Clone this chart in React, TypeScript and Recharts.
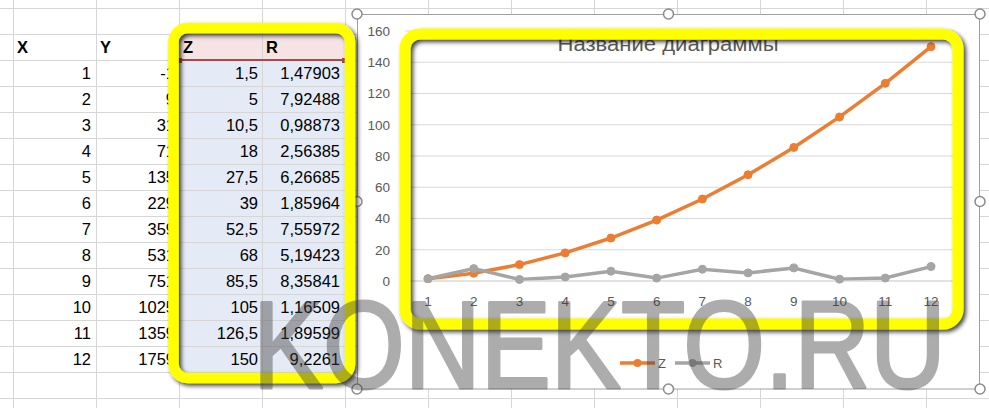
import React from 'react';
import { LineChart, Line, XAxis, YAxis, CartesianGrid } from 'recharts';

// sheet + chart values
const xValues = [1, 2, 3, 4, 5, 6, 7, 8, 9, 10, 11, 12];
const yValues = [-1, 9, 31, 71, 135, 229, 359, 531, 751, 1025, 1359, 1759];
const zValues = [1.5, 5, 10.5, 18, 27.5, 39, 52.5, 68, 85.5, 105, 126.5, 150];
const rValues = [1.47903, 7.92488, 0.98873, 2.56385, 6.26685, 1.85964, 7.55972, 5.19423, 8.35841, 1.16509, 1.89599, 9.2261];
const yTicks = [0, 20, 40, 60, 80, 100, 120, 140, 160];
const headers = ['X', 'Y', 'Z', 'R'];
const chartTitle = 'Название диаграммы';
const watermark = 'KONEKTO.RU';

const series = [
  { key: 'Z', color: '#ed7d31' },
  { key: 'R', color: '#a5a5a5' },
];

const data = xValues.map((x, i) => ({ x: String(x), Z: zValues[i], R: rValues[i] }));

const FONT = '"Liberation Sans", Arial, sans-serif';
const fmt = (v: number) => String(v).replace('.', ',');

// sheet grid
const colLines = Array.from({ length: 13 }, (_, i) => 13 + i * 83);
const rowLines = Array.from({ length: 16 }, (_, i) => 8 + i * 26);
const colRight = [91, 175, 258, 340];
const colLeft = [17, 100, 183, 266];

const Sheet = () => (
  <>
    <div style={{ position: 'absolute', left: 179, top: 34, width: 166, height: 26, background: '#f6e3e3' }} />
    <div style={{ position: 'absolute', left: 179, top: 60, width: 166, height: 312, background: '#e5ebf6' }} />
    <svg width={989} height={408} style={{ position: 'absolute', left: 0, top: 0 }}>
      {colLines.map((x) => (
        <line key={'c' + x} x1={x + 0.5} x2={x + 0.5} y1={0} y2={408} stroke="#d6d6d6" />
      ))}
      {rowLines.map((y) => (
        <line key={'r' + y} x1={0} x2={989} y1={y + 0.5} y2={y + 0.5} stroke="#d6d6d6" />
      ))}
      <line x1={179} x2={345} y1={60} y2={60} stroke="#a84848" strokeWidth={2} />
      <rect x={177} y={58} width={5} height={5} fill="#a84848" />
      <rect x={342} y={58} width={5} height={5} fill="#a84848" />
    </svg>
    {headers.map((h, i) => (
      <div key={h} style={{ position: 'absolute', left: colLeft[i], top: 34, height: 26, lineHeight: '27px', fontFamily: FONT, fontSize: 16.5, fontWeight: 'bold', color: '#000' }}>
        {h}
      </div>
    ))}
    {xValues.map((x, i) => {
      const vals = [fmt(x), fmt(yValues[i]), fmt(zValues[i]), fmt(rValues[i])];
      return vals.map((v, j) => (
        <div
          key={i + '-' + j}
          style={{ position: 'absolute', right: 989 - colRight[j], top: 60 + i * 26, height: 26, lineHeight: '27px', fontFamily: FONT, fontSize: 16.5, color: '#000', whiteSpace: 'nowrap' }}
        >
          {v}
        </div>
      ));
    })}
  </>
);

const handles = [
  [357, 14], [668.5, 14], [980, 14], [980, 201.5],
  [980, 389], [668.5, 389], [357, 389], [357, 201.5],
];

const Overlay = () => (
  <svg width={989} height={408} style={{ position: 'absolute', left: 0, top: 0, fontFamily: FONT }}>
    <defs>
      <filter id="shadow" x="-10%" y="-10%" width="120%" height="120%">
        <feDropShadow dx={2.5} dy={2.5} stdDeviation={2} floodColor="#000" floodOpacity={0.75} />
      </filter>
    </defs>
    <rect x={357.5} y={14.5} width={622} height={374.5} fill="none" stroke="#a0a0a0" />
    {handles.map(([cx, cy], i) => (
      <circle key={i} cx={cx} cy={cy} r={5} fill="#fff" stroke="#8c8c8c" strokeWidth={1.5} />
    ))}
    <text x={668} y={51} textAnchor="middle" fontSize={20} fill="#595959" textLength={221} lengthAdjust="spacingAndGlyphs">
      {chartTitle}
    </text>
    {series.map((s, i) => {
      const x0 = 620 + i * 55;
      return (
        <g key={s.key}>
          <line x1={x0} x2={x0 + 35} y1={363} y2={363} stroke={s.color} strokeWidth={3.5} />
          <circle cx={x0 + 17.5} cy={363} r={4} fill={s.color} />
          <text x={x0 + 38} y={368} fontSize={13} fill="#595959">{s.key}</text>
        </g>
      );
    })}
    <rect x={173.5} y={28} width={176.5} height={350} rx={14} fill="none" stroke="#ffff00" strokeWidth={10.5} filter="url(#shadow)" />
    <rect x={405} y={34} width={553} height={290} rx={15} fill="none" stroke="#ffff00" strokeWidth={11} filter="url(#shadow)" />
    {/* watermark, group opacity so fill + stroke blend once */}
    <g opacity={0.42}>
      <text
        x={253}
        y={388}
        fontSize={125}
        fill="#3c3c3c"
        stroke="#3c3c3c"
        strokeWidth={3}
        strokeLinejoin="round"
        textLength={693}
        lengthAdjust="spacingAndGlyphs"
      >
        {watermark}
      </text>
    </g>
  </svg>
);

export default function App() {
  return (
    <div style={{ position: 'absolute', left: 0, top: 0, width: 989, height: 408, overflow: 'hidden', background: '#fff' }}>
      <Sheet />
      <div style={{ position: 'absolute', left: 357, top: 14, width: 623, height: 375, background: '#fff', fontFamily: FONT }}>
        <LineChart width={623} height={375} data={data} margin={{ top: 17, right: 26, left: 0, bottom: 78 }}>
          <CartesianGrid vertical={false} stroke="#d9d9d9" />
          <XAxis
            dataKey="x"
            interval={0}
            padding={{ left: 23, right: 23 }}
            axisLine={{ stroke: '#d9d9d9' }}
            tickLine={false}
            tickMargin={9}
            tick={{ fontSize: 13.5, fill: '#595959' }}
          />
          <YAxis
            width={48}
            domain={[0, 160]}
            ticks={yTicks}
            axisLine={false}
            tickLine={false}
            tickMargin={9}
            tick={{ fontSize: 13.5, fill: '#595959' }}
          />
          {series.map((s) => (
            <Line
              key={s.key}
              type="linear"
              dataKey={s.key}
              stroke={s.color}
              strokeWidth={3.5}
              dot={{ r: 4, fill: s.color, stroke: s.color, strokeWidth: 1 }}
              isAnimationActive={false}
            />
          ))}
        </LineChart>
      </div>
      <Overlay />
    </div>
  );
}
